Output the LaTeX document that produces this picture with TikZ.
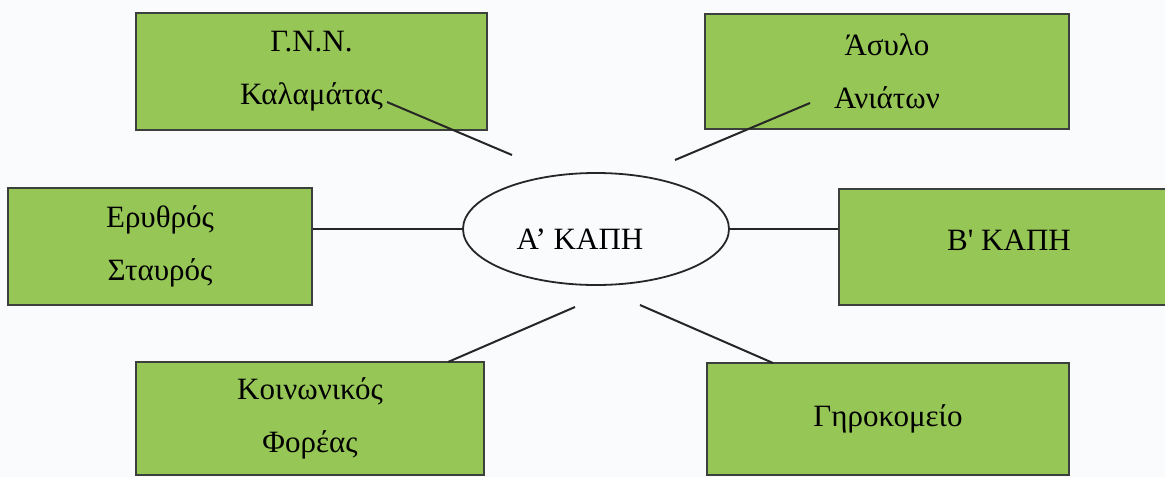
\documentclass[tikz,border=0pt]{standalone}
\usepackage{fontspec}
\setmainfont{Liberation Serif}
\newfontfamily\quotefont{Liberation Serif}
\usetikzlibrary{shapes.geometric}
\definecolor{boxgreen}{RGB}{150,198,86}
\definecolor{boxrim}{RGB}{60,64,60}
\definecolor{paper}{RGB}{250,251,252}

\begin{document}
\begin{tikzpicture}[x=1pt, y=-1pt,
    service/.style={rectangle, draw=boxrim, fill=boxgreen, line width=2.6pt,
      align=center, font=\fontsize{31}{53}\selectfont},
    hub/.style={ellipse, draw=black!85, line width=1.8pt, inner sep=0pt,
      minimum width=266pt, minimum height=112pt, font=\fontsize{31}{53}\selectfont},
    link/.style={draw=black!85, line width=2pt}]
    \useasboundingbox[fill=paper] (0,0) rectangle (1165,477);
    % Centre
    \node(kapiA)[hub, text height=40pt, text depth=0pt] at (596,229)
      {Α’ ΚΑΠΗ\hspace*{32pt}};
    % Services round it
    \node(gnn)     [service, minimum width=351pt, minimum height=117pt] at (311.5,71.5) {Γ.Ν.Ν.\\Καλαμάτας};
    \node(asylo)   [service, minimum width=364pt, minimum height=115pt] at (887,71.5)   {Άσυλο\\Ανιάτων};
    \node(erythros)[service, minimum width=304pt, minimum height=117pt] at (160,246.5)  {Ερυθρός\\Σταυρός};
    \node(bkapi)   [service, minimum width=340pt, minimum height=116pt, text depth=14pt] at (1009,247)
      {Β{\quotefont'} ΚΑΠΗ};
    \node(koin)    [service, minimum width=348pt, minimum height=113pt] at (310,418.5)  {Κοινωνικός\\Φορέας};
    \node(giro)    [service, minimum width=362pt, minimum height=112pt] at (888,419)    {Γηροκομείο};
    % Loose ends of the slanted links
    \coordinate (gnn-tail)   at (387,102);
    \coordinate (gnn-head)   at (512,155);
    \coordinate (asylo-tail) at (810,103);
    \coordinate (asylo-head) at (675,160);
    \coordinate (koin-tail)  at (448,362);
    \coordinate (koin-head)  at (575,307);
    \coordinate (giro-tail)  at (773,363);
    \coordinate (giro-head)  at (640,305);
    \path[link] (kapiA.west) edge (kapiA.west -| erythros.east);
    \path[link] (kapiA.east) edge (kapiA.east -| bkapi.west);
    \path[link] (gnn-tail)   edge (gnn-head);
    \path[link] (asylo-tail) edge (asylo-head);
    \path[link] (koin-tail)  edge (koin-head);
    \path[link] (giro-tail)  edge (giro-head);
\end{tikzpicture}
\end{document}
